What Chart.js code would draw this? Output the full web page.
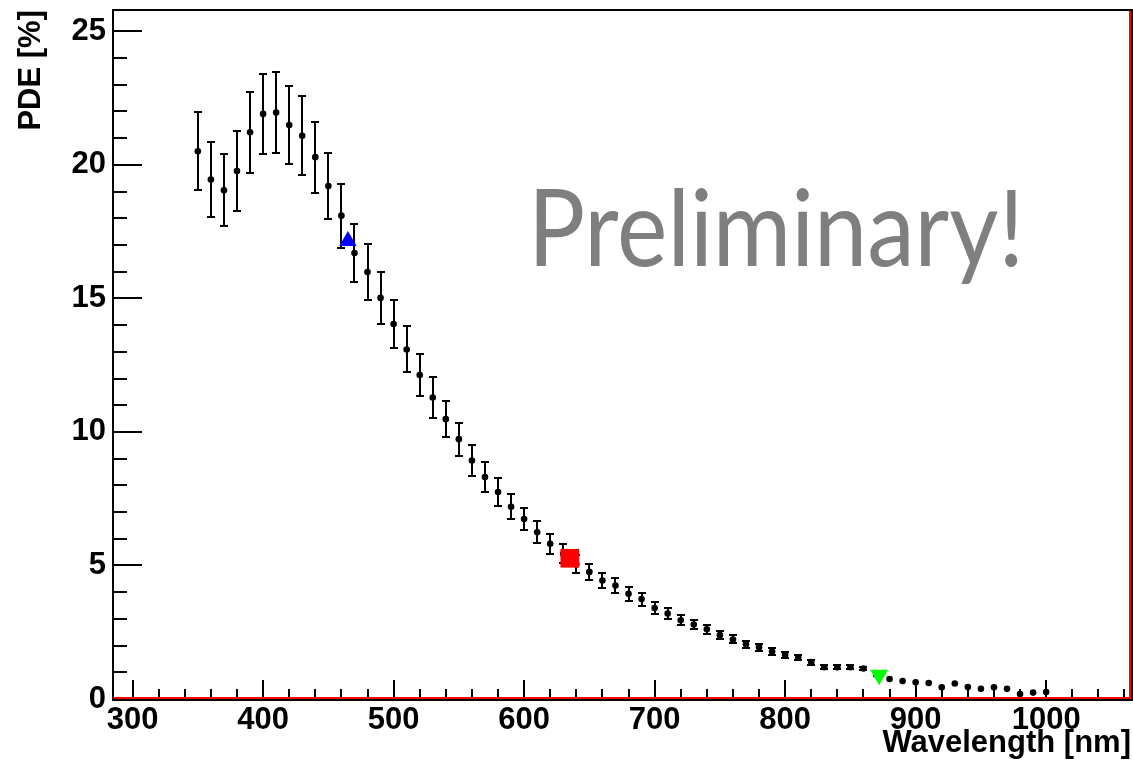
<!DOCTYPE html>
<html>
<head>
<meta charset="utf-8">
<script src="https://cdn.jsdelivr.net/npm/chart.js@4.4.1/dist/chart.umd.min.js"></script>
<style>
  html, body { margin: 0; padding: 0; background: #fff; }
  #wrap { width: 1133px; height: 771px; }
</style>
</head>
<body>
<div id="wrap"><canvas id="pde" width="1133" height="771"></canvas></div>
<script>
// PDE vs wavelength
var wavelength = [350, 360, 370, 380, 390, 400, 410, 420, 430, 440,
                  450, 460, 470, 480, 490, 500, 510, 520, 530, 540,
                  550, 560, 570, 580, 590, 600, 610, 620, 630, 640,
                  650, 660, 670, 680, 690, 700, 710, 720, 730, 740,
                  750, 760, 770, 780, 790, 800, 810, 820, 830, 840,
                  850, 860, 870, 880, 890, 900, 910, 920, 930, 940,
                  950, 960, 970, 980, 990, 1000];
var pde = [20.51, 19.45, 19.05, 19.77, 21.22, 21.91, 21.96, 21.49, 21.09, 20.29,
           19.21, 18.10, 16.70, 15.99, 15.02, 14.04, 13.09, 12.13, 11.29, 10.48,
           9.73, 8.93, 8.31, 7.75, 7.20, 6.74, 6.24, 5.81, 5.44, 5.05,
           4.76, 4.44, 4.25, 3.94, 3.74, 3.41, 3.20, 2.95, 2.79, 2.61,
           2.39, 2.23, 2.05, 1.94, 1.78, 1.66, 1.55, 1.38, 1.19, 1.19,
           1.19, 1.14, 0.92, 0.75, 0.67, 0.63, 0.60, 0.44, 0.58, 0.45,
           0.38, 0.44, 0.38, 0.19, 0.24, 0.26];
var pdeErr = [1.46, 1.40, 1.35, 1.50, 1.52, 1.50, 1.50, 1.45, 1.48, 1.33,
              1.25, 1.20, 1.10, 1.05, 0.98, 0.90, 0.86, 0.78, 0.76, 0.68,
              0.62, 0.58, 0.55, 0.52, 0.46, 0.43, 0.41, 0.37, 0.35, 0.33,
              0.31, 0.29, 0.28, 0.26, 0.24, 0.22, 0.21, 0.19, 0.18, 0.17,
              0.16, 0.15, 0.14, 0.13, 0.12, 0.11, 0.10, 0.09, 0.08, 0.08,
              0.08, 0.07, 0.06, 0, 0, 0, 0, 0, 0, 0,
              0, 0, 0, 0, 0, 0];

var markBlue  = [{x: 465, y: 17.15}];
var markRed   = [{x: 635, y: 5.27}];
var markGreen = [{x: 872, y: 0.90}];

var xTickLabels = [300, 400, 500, 600, 700, 800, 900, 1000];
var yTickLabels = [0, 5, 10, 15, 20, 25];

var axisFont = {family: 'Liberation Sans', size: 31, weight: 'bold'};

var points = wavelength.map(function (wl, i) { return {x: wl, y: pde[i]}; });

/* Private */

function _line(ctx, x1, y1, x2, y2) {
  ctx.beginPath();
  ctx.moveTo(x1, y1);
  ctx.lineTo(x2, y2);
  ctx.stroke();
}

function _noPadding(scale) {
  scale.paddingTop = 0;
  scale.paddingBottom = 0;
  scale.paddingLeft = 0;
  scale.paddingRight = 0;
}

var rootStyle = {
  id: 'rootStyle',
  beforeDatasetsDraw: function (chart) {
    var ctx = chart.ctx, x = chart.scales.x, y = chart.scales.y;

    // watermark
    ctx.save();
    ctx.font = '107px Lato';
    ctx.fillStyle = '#7f7f7f';
    ctx.textBaseline = 'alphabetic';
    var w = ctx.measureText('Preliminary!').width;
    ctx.translate(x.getPixelForValue(603), y.getPixelForValue(16.2));
    ctx.scale(496 / w, 1);
    ctx.fillText('Preliminary!', 0, 0);
    ctx.restore();

    // error bars
    ctx.save();
    ctx.strokeStyle = '#000';
    ctx.lineWidth = 2;
    wavelength.forEach(function (wl, i) {
      var e = pdeErr[i];
      if (!e) return;
      var px = Math.round(x.getPixelForValue(wl));
      var top = Math.round(y.getPixelForValue(pde[i] + e));
      var bot = Math.round(y.getPixelForValue(Math.max(pde[i] - e, 0)));
      _line(ctx, px, top, px, bot);
      _line(ctx, px - 4, top, px + 4, top);
      _line(ctx, px - 4, bot, px + 4, bot);
    });
    ctx.restore();
  },
  afterDraw: function (chart) {
    var ctx = chart.ctx, x = chart.scales.x, y = chart.scales.y;
    var a = chart.chartArea;
    var v;

    ctx.save();
    ctx.strokeStyle = '#000';
    ctx.lineWidth = 2;

    // ticks, drawn inward like ROOT
    for (v = 0; v <= 25; v += 1) {
      var py = Math.round(y.getPixelForValue(v));
      var len = yTickLabels.indexOf(v) >= 0 ? 29 : 14;
      _line(ctx, a.left, py, a.left + len, py);
    }
    for (v = 300; v <= 1060; v += 20) {
      var px = Math.round(x.getPixelForValue(v));
      var l = xTickLabels.indexOf(v) >= 0 ? 19 : 10;
      _line(ctx, px, a.bottom, px, a.bottom - l);
    }

    // frame
    ctx.beginPath();
    ctx.moveTo(a.left, a.bottom + 2);
    ctx.lineTo(a.left, a.top);
    ctx.lineTo(a.right + 1, a.top);
    ctx.lineTo(a.right + 1, a.bottom + 1);
    ctx.lineTo(a.left, a.bottom + 1);
    ctx.stroke();

    // red lines along the bottom and right edges
    ctx.strokeStyle = '#ff0000';
    ctx.lineWidth = 2;
    _line(ctx, a.left + 1, a.bottom - 1, a.right, a.bottom - 1);
    _line(ctx, a.right - 1, a.top + 1, a.right - 1, a.bottom);
    ctx.restore();
  }
};

new Chart(document.getElementById('pde').getContext('2d'), {
  type: 'scatter',
  data: {
    datasets: [
      {data: markBlue,  pointStyle: 'triangle', pointRadius: 10, backgroundColor: '#0000ff', borderWidth: 0},
      {data: markRed,   pointStyle: 'rect', pointRadius: 13.2, backgroundColor: '#ff0000', borderWidth: 0},
      {data: markGreen, pointStyle: 'triangle', rotation: 180, pointRadius: 10.4, backgroundColor: '#00ff00', borderWidth: 0},
      {data: points, pointStyle: 'circle', pointRadius: 3.3, backgroundColor: '#000', borderWidth: 0}
    ]
  },
  options: {
    responsive: false,
    animation: false,
    devicePixelRatio: 1,
    layout: {autoPadding: false, padding: {top: 10, right: 2, left: 0, bottom: 0}},
    plugins: {legend: {display: false}, tooltip: {enabled: false}},
    scales: {
      x: {
        type: 'linear',
        min: 285,
        max: 1065,
        grid: {display: false, drawTicks: false},
        border: {display: false},
        afterBuildTicks: function (scale) {
          scale.ticks = xTickLabels.map(function (v) { return {value: v}; });
        },
        afterFit: function (scale) { scale.height = 72; _noPadding(scale); },
        ticks: {font: axisFont, color: '#000', padding: 3, autoSkip: false, maxRotation: 0,
                callback: function (v) { return String(v); }},
        title: {display: true, text: 'Wavelength [nm]', align: 'end', color: '#000',
                font: axisFont, padding: {top: 0, bottom: 9}}
      },
      y: {
        min: 0,
        max: 25.8,
        grid: {display: false, drawTicks: false},
        border: {display: false},
        afterBuildTicks: function (scale) {
          scale.ticks = yTickLabels.map(function (v) { return {value: v}; });
        },
        afterFit: function (scale) { scale.width = 113; _noPadding(scale); },
        ticks: {font: axisFont, color: '#000', padding: 7,
                callback: function (v) { return String(v); }},
        title: {display: true, text: 'PDE [%]', align: 'end', color: '#000',
                font: axisFont, padding: {top: 13, bottom: 0}}
      }
    }
  },
  plugins: [rootStyle]
});
</script>
</body>
</html>
